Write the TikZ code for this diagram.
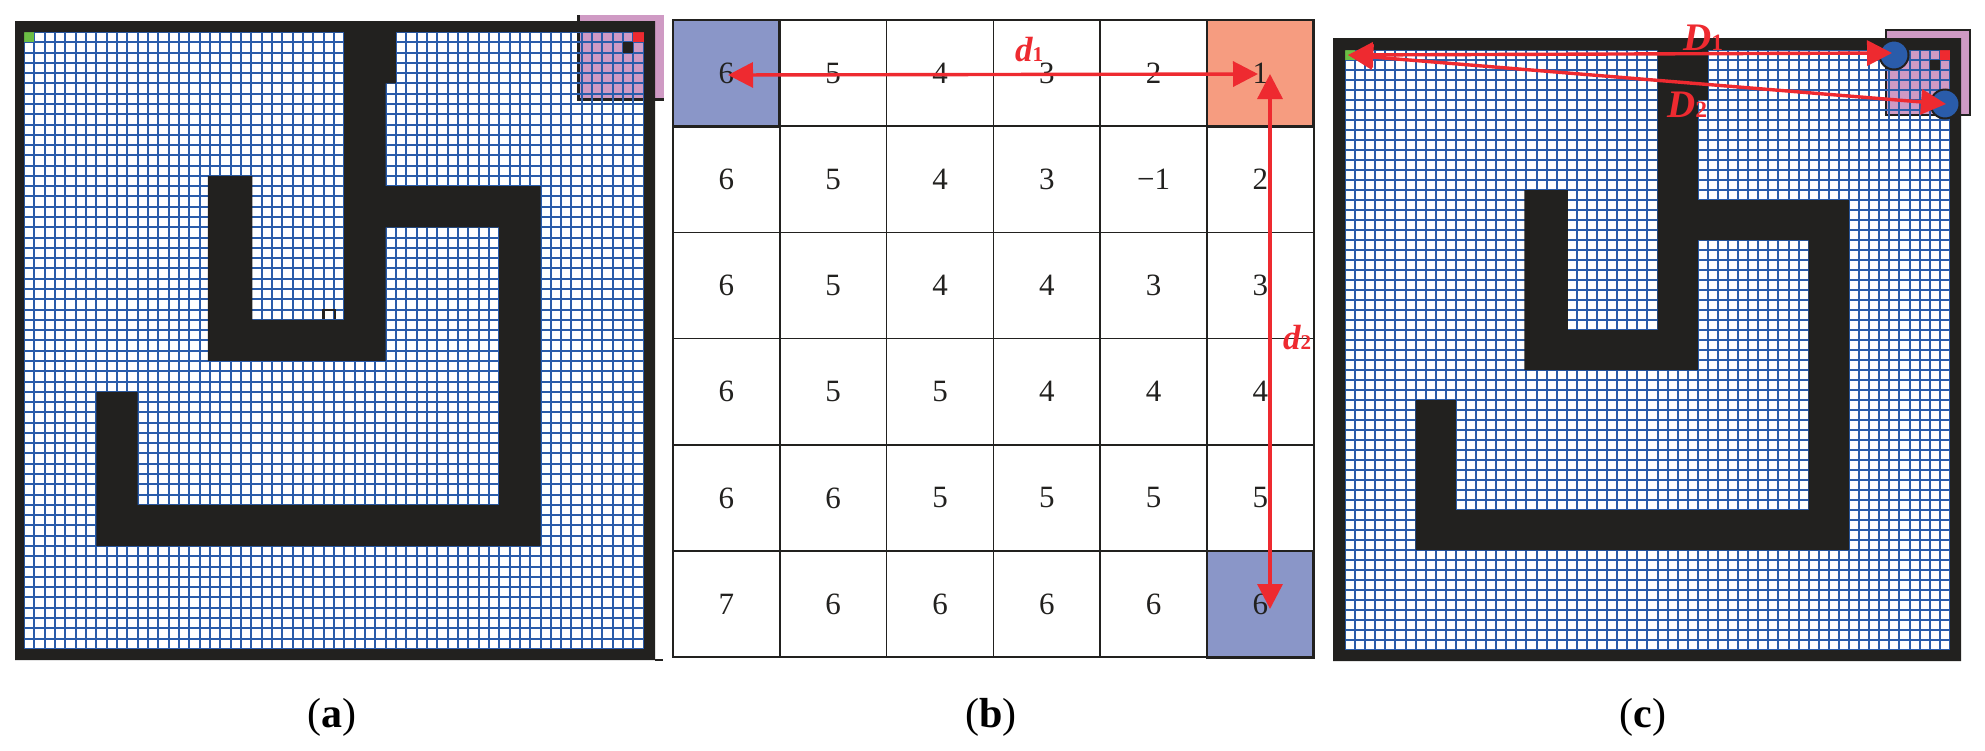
\documentclass[tikz,border=0pt]{standalone}
\usepackage{fontspec}
\usepackage{xcolor}
\setmainfont{Liberation Serif}
\usetikzlibrary{positioning,calc,arrows.meta}

\definecolor{wallblack}{HTML}{22211F}
\definecolor{gridblue}{HTML}{2A5CAA}
\definecolor{zonepink}{HTML}{CF9AC4}
\definecolor{startgreen}{HTML}{6CBE45}
\definecolor{goalred}{HTML}{EE2A30}
\definecolor{cellblue}{HTML}{8A96C8}
\definecolor{cellsalmon}{HTML}{F69C80}

\newcommand{\subidx}[1]{{\fontsize{0.6em}{1em}\selectfont\upshape #1}}

% grid and walls of one map, in cell units
\newcommand{\gridworld}[4]{
  \begin{scope}[shift={(#1,#2)},x=#3*0.5pt,y=-#4*0.5pt]
    \foreach \i in {0,...,60} {
      \draw [gridline] (\i,0) -- (\i,60);
      \draw [gridline] (0,\i) -- (60,\i);
    }
    \fill [wallblack] (31,0) -- (36,0) -- (36,5) -- (35,5) -- (35,15) -- (50,15) -- (50,50) -- (7,50) -- (7,35) -- (11,35) -- (11,46) -- (46,46) -- (46,19) -- (35,19) -- (35,32) -- (17.8,32) -- (17.8,14) -- (22.1,14) -- (22.1,28) -- (31,28) -- cycle;
    \fill [startgreen] (0,0) rectangle (1,1);
    \fill [goalred] (59,0) rectangle (60,1);
    \fill [wallblack] (58,1) rectangle (59,2);
  \end{scope}
}

\begin{document}
\begin{tikzpicture}[
    x=0.5pt, y=-0.5pt,
    gridline/.style={draw=gridblue, line width=1pt},
    frameline/.style={draw=wallblack, line width=0.6pt},
    cellbox/.style={rectangle, draw=wallblack, line width=0.8pt, minimum width=53.4pt, minimum height=53.1pt, inner sep=0pt, font=\fontsize{15.5pt}{18pt}\selectfont, text=wallblack},
    cell-1-1/.style={fill=cellblue, line width=1.4pt},
    cell-1-6/.style={fill=cellsalmon, line width=1.4pt},
    cell-6-6/.style={fill=cellblue, line width=1.4pt},
    arrow/.style={{Triangle[length=12.5pt,width=12.5pt]}-{Triangle[length=12.5pt,width=12.5pt]}, draw=goalred, fill=goalred, line width=1.7pt},
    distlabel/.style={font=\fontsize{17.5pt}{20pt}\selectfont\bfseries\itshape, text=goalred, inner sep=0pt},
    bigdist/.style={font=\fontsize{19.5pt}{22pt}\selectfont\bfseries\itshape, text=goalred, inner sep=0pt},
    caption/.style={font=\fontsize{21pt}{24pt}\selectfont, text=black, inner sep=0pt},
    robot/.style={circle, draw=wallblack, fill=gridblue, line width=1pt, minimum size=14.5pt, inner sep=0pt},
  ]
  \useasboundingbox (0,0) rectangle (1985,750);

  % map a
  \fill [zonepink] (577,15) rectangle (664,100);
  \draw [wallblack, line width=1.5pt] (578,15) -- (578,99) -- (664,99);
  \gridworld{24}{32}{10.33}{10.28}
  \fill [wallblack, even odd rule] (15,21) rectangle (655,660) (24,32) rectangle (644,649);
  \draw [wallblack, line width=1.1pt] (323.5,319) -- (323.5,310) -- (335,310) -- (335,319);
  \draw [frameline] (655,660) -- (663,660);

  % table b
  \foreach \vals [count=\r] in {{6,5,4,3,2,1},{6,5,4,3,−1,2},{6,5,4,4,3,3},{6,5,5,4,4,4},{6,6,5,5,5,5},{7,6,6,6,6,6}} {
    \foreach \val [count=\c] in \vals {
      \node [cellbox, cell-\r-\c/.try] (cell-\r-\c) at ({673+106.8*(\c-0.5)},{20+106.2*(\r-0.5)}) {\raisebox{-1.25pt}{\val}};
    }
  }
  \coordinate (d1start) at (728,75);
  \coordinate (d1end) at (1258,74);
  \coordinate (d2start) at (1270,74);
  \coordinate (d2end) at (1270,609);
  \draw [arrow] (d1start) -- (d1end);
  \draw [arrow] (d2start) -- (d2end);
  \node [distlabel] (d1label) at (1029,50) {d\subidx{1}};
  \node [distlabel] (d2label) at (1297,338) {d\subidx{2}};

  % map c
  \fill [zonepink] (1885,29) rectangle (1971,116);
  \draw [wallblack, line width=1pt] (1886,30) rectangle (1970,115);
  \gridworld{1345}{50}{10.08}{10}
  \fill [wallblack, even odd rule] (1333,38) rectangle (1961,661) (1345,50) rectangle (1950,650);
  \node [robot] (robot1) at (1894,55) {};
  \node [robot] (robot2) at (1945,104) {};
  \coordinate (startc) at (1348,55);
  \coordinate (d1tip) at (1892,53);
  \coordinate (d2tip) at (1946,104);
  \draw [arrow] (startc) -- (d1tip);
  \draw [arrow] (startc) -- (d2tip);
  \node [bigdist] (bigd1) at (1703,38) {D\subidx{1}};
  \node [bigdist] (bigd2) at (1687,105) {D\subidx{2}};

  \node [caption] (capa) at (332,717) {(\textbf{a})};
  \node [caption] (capb) at (991,717) {(\textbf{b})};
  \node [caption] (capc) at (1643,717) {(\textbf{c})};
\end{tikzpicture}
\end{document}
